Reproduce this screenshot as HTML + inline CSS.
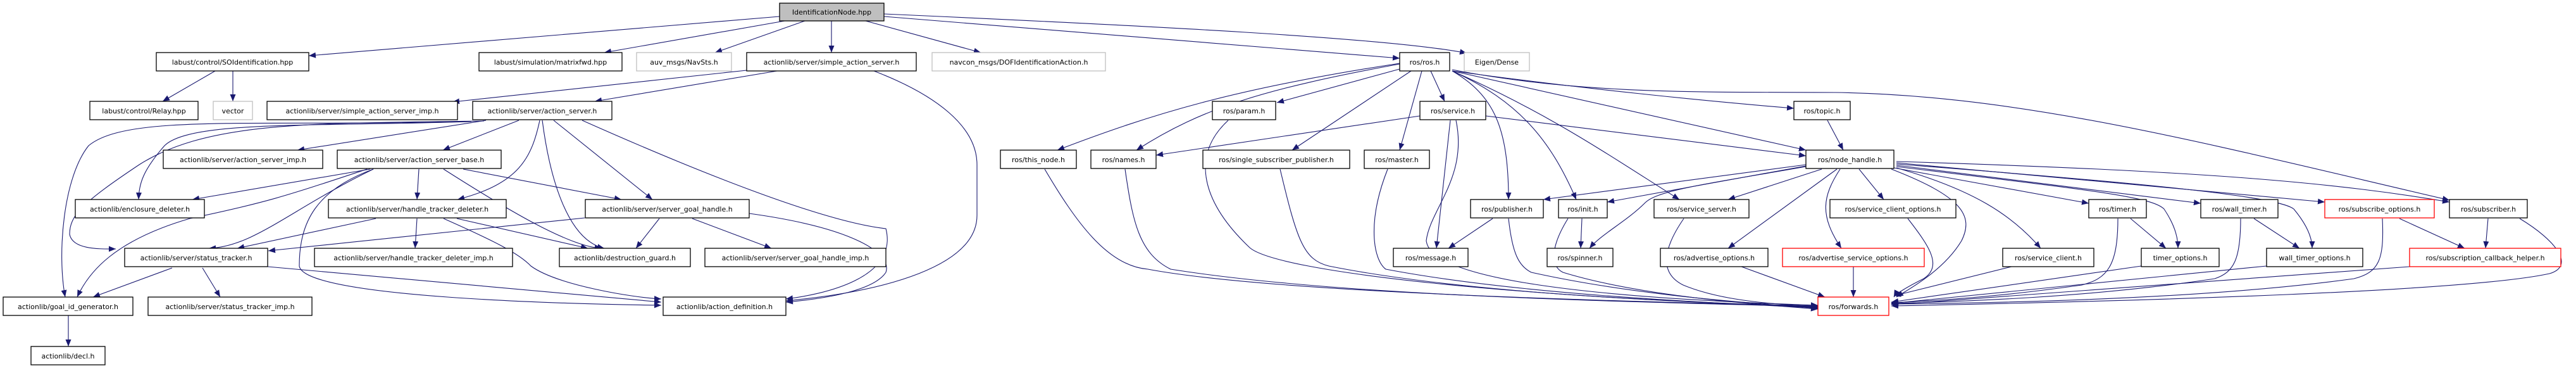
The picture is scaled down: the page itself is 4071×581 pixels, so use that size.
<!DOCTYPE html>
<html><head><meta charset="utf-8"><style>
html,body{margin:0;padding:0;background:#fff;}
svg{display:block;}
text{font-family:"DejaVu Sans","Liberation Sans",sans-serif;font-size:11px;fill:#000;text-anchor:middle;}
.n{fill:#fff;stroke:#000;stroke-width:1.3;}
.g{fill:#fff;stroke:#bfbfbf;stroke-width:1.3;}
.r{fill:#fff;stroke:#ff0000;stroke-width:1.3;}
.e{fill:none;stroke:#191970;stroke-width:1.1;}
</style></head><body>
<svg width="4071" height="581" viewBox="0 0 4071 581" xmlns="http://www.w3.org/2000/svg">
<defs><marker id="a" markerUnits="userSpaceOnUse" markerWidth="12" markerHeight="10" refX="11" refY="5" orient="auto"><path d="M0,0.5 L11,5 L0,9.5 z" fill="#191970"/></marker></defs>
<g marker-end="url(#a)">
<!-- root edges -->
<path class="e" d="M1232,26 L488,88"/>
<path class="e" d="M1240,33 L955,83"/>
<path class="e" d="M1272,33 L1130,83"/>
<path class="e" d="M1314,33 L1314,83"/>
<path class="e" d="M1368,33 L1550,83"/>
<path class="e" d="M1397,26 L2212,92"/>
<path class="e" d="M1397,22 C1800,40 2200,60 2318,84"/>
<!-- SOIdentification -->
<path class="e" d="M340,112 L257,160"/>
<path class="e" d="M368,112 L368,160"/>
<!-- simple_action_server -->
<path class="e" d="M1180,111 L715,161"/>
<path class="e" d="M1228,112 L940,160"/>
<path class="e" d="M1381,112 C1480,150 1544,200 1544,260 L1544,340 C1544,420 1400,460 1242,475"/>
<!-- action_server -->
<path class="e" d="M768,190 L470,237"/>
<path class="e" d="M820,190 L700,237"/>
<path class="e" d="M745,192 C500,200 300,190 260,230 C225,270 220,290 219,315"/>
<path class="e" d="M745,192 C400,200 200,180 140,230 C100,280 90,400 103,469"/>
<path class="e" d="M765,191 C500,195 330,190 220,260 C130,320 110,340 110,370 C115,395 160,393 183,393"/>
<path class="e" d="M853,190 C840,250 820,290 723,315"/>
<path class="e" d="M857,190 C870,290 900,380 955,392"/>
<path class="e" d="M875,190 L1031,315"/>
<path class="e" d="M920,190 C1100,270 1300,350 1400,361 C1420,440 1300,465 1242,472"/>
<!-- action_server_base -->
<path class="e" d="M585,267 L304,315"/>
<path class="e" d="M580,267 C450,310 420,320 300,345 C180,380 140,430 122,469"/>
<path class="e" d="M590,267 C460,330 400,390 330,392"/>
<path class="e" d="M662,267 L659,315"/>
<path class="e" d="M701,267 C800,330 900,390 951,392"/>
<path class="e" d="M732,267 L982,315"/>
<path class="e" d="M590,267 C500,300 473,350 473,420 C480,470 900,480 1045,482"/>
<!-- handle_tracker_deleter -->
<path class="e" d="M594,345 L375,392"/>
<path class="e" d="M659,345 L656,392"/>
<path class="e" d="M722,345 L929,392"/>
<path class="e" d="M701,345 C780,380 820,400 839,420 C880,450 1000,470 1045,472"/>
<!-- server_goal_handle -->
<path class="e" d="M924,344 L424,396"/>
<path class="e" d="M1042,345 L1005,392"/>
<path class="e" d="M1094,345 L1219,392"/>
<path class="e" d="M1184,337 C1350,360 1410,400 1400,430 C1380,460 1300,472 1242,477"/>
<!-- status_tracker -->
<path class="e" d="M272,423 L147,469"/>
<path class="e" d="M320,423 L348,469"/>
<path class="e" d="M423,421 L1045,477"/>
<path class="e" d="M108,498 L108,547"/>
<!-- ros.h -->
<path class="e" d="M2212,100 C1950,140 1820,180 1671,237"/>
<path class="e" d="M2212,101 C2000,140 1900,170 1796,237"/>
<path class="e" d="M2212,109 L2018,162"/>
<path class="e" d="M2230,112 L2042,237"/>
<path class="e" d="M2247,112 L2212,237"/>
<path class="e" d="M2261,112 L2283,160"/>
<path class="e" d="M2295,112 C2360,150 2384,200 2384,315"/>
<path class="e" d="M2295,112 C2400,160 2450,220 2491,315"/>
<path class="e" d="M2295,112 C2450,180 2550,250 2654,315"/>
<path class="e" d="M2295,112 L2854,237"/>
<path class="e" d="M2295,112 C2500,140 2700,160 2835,171"/>
<path class="e" d="M2295,110 C2500,150 2700,145 2900,146 C3200,150 3500,230 3871,316"/>
<!-- service.h -->
<path class="e" d="M2244,183 L1827,245"/>
<path class="e" d="M2292,190 L2270,392"/>
<path class="e" d="M2348,183 L2854,246"/>
<path class="e" d="M2301,190 C2320,280 2260,330 2254,380 C2260,440 2500,470 2873,482"/>
<!-- row3 ros -> forwards -->
<path class="e" d="M1941,190 C1880,246 1900,320 1975,391 C2020,430 2400,470 2873,484"/>
<path class="e" d="M1651,267 C1700,350 1750,420 1814,425 C2000,460 2500,475 2873,483"/>
<path class="e" d="M1778,267 C1790,350 1800,400 1850,425 C2100,465 2500,475 2873,484"/>
<path class="e" d="M2023,267 C2050,380 2060,410 2100,420 C2300,460 2600,475 2873,485"/>
<path class="e" d="M2193,267 C2160,350 2170,410 2190,425 C2400,465 2700,478 2873,486"/>
<!-- publisher/init/service_server -->
<path class="e" d="M2359,345 L2289,392"/>
<path class="e" d="M2384,345 C2390,400 2400,420 2420,430 C2600,470 2800,480 2873,487"/>
<path class="e" d="M2500,345 L2498,392"/>
<path class="e" d="M2478,345 C2450,390 2450,420 2470,430 C2600,470 2800,482 2873,488"/>
<path class="e" d="M2661,345 C2630,390 2620,430 2660,450 C2720,475 2800,480 2873,484"/>
<!-- row5 -> forwards -->
<path class="e" d="M2752,421 L2884,469"/>
<path class="e" d="M2929,421 L2929,469"/>
<path class="e" d="M3015,345 C3050,390 3070,420 3040,440 C3010,455 2995,465 2993,469"/>
<path class="e" d="M3179,421 L2993,467"/>
<path class="e" d="M3384,420 L2989,477"/>
<path class="e" d="M3582,420 L2989,479"/>
<path class="e" d="M3808,421 L2989,481"/>
<path class="e" d="M3982,345 C4040,380 4070,420 4029,432 C3900,460 3400,475 2989,483"/>
<!-- subscriber / subscribe_options -->
<path class="e" d="M3932,345 L3928,392"/>
<path class="e" d="M3792,345 L3895,392"/>
<path class="e" d="M3765,345 C3768,410 3760,430 3720,440 C3500,470 3200,478 2989,480"/>
<!-- timer / wall_timer -->
<path class="e" d="M3367,345 L3423,392"/>
<path class="e" d="M3347,345 C3347,420 3330,440 3290,450 C3150,470 3050,475 2989,478"/>
<path class="e" d="M3562,345 L3634,392"/>
<path class="e" d="M3541,345 C3541,410 3530,430 3500,440 C3300,470 3100,476 2989,479"/>
<!-- topic -->
<path class="e" d="M2888,190 L2913,237"/>
<!-- node_handle -->
<path class="e" d="M2854,260 L2439,315"/>
<path class="e" d="M2854,262 L2540,319"/>
<path class="e" d="M2854,263 C2700,290 2620,300 2600,320 C2570,350 2530,370 2512,392"/>
<path class="e" d="M2879,267 L2731,315"/>
<path class="e" d="M2903,267 L2731,392"/>
<path class="e" d="M2908,267 C2880,310 2875,340 2910,392"/>
<path class="e" d="M2938,267 L2977,315"/>
<path class="e" d="M2989,267 C3100,310 3120,340 3100,380 C3070,430 3010,460 2997,469"/>
<path class="e" d="M2997,265 C3120,300 3180,340 3225,392"/>
<path class="e" d="M2993,265 L3301,321"/>
<path class="e" d="M2997,263 C3300,300 3400,310 3420,330 C3440,360 3442,380 3442,392"/>
<path class="e" d="M2997,261 L3478,321"/>
<path class="e" d="M2997,259 C3400,290 3600,310 3625,330 C3650,360 3654,380 3654,392"/>
<path class="e" d="M2997,257 L3674,319"/>
<path class="e" d="M2997,255 C3500,270 3700,290 3871,319"/>
</g>
<!-- nodes -->
<rect x="1232" y="5" width="165" height="28" fill="#bfbfbf" stroke="#000" stroke-width="1.3"/><text x="1314.5" y="23">IdentificationNode.hpp</text>

<rect class="n" x="247" y="83" width="241" height="29"/><text x="367.5" y="102">labust/control/SOIdentification.hpp</text>
<rect class="n" x="757" y="83" width="226" height="29"/><text x="870" y="102">labust/simulation/matrixfwd.hpp</text>
<rect class="g" x="1006" y="83" width="150" height="29"/><text x="1081" y="102">auv_msgs/NavSts.h</text>
<rect class="n" x="1180" y="83" width="268" height="29"/><text x="1314" y="102">actionlib/server/simple_action_server.h</text>
<rect class="g" x="1473" y="83" width="274" height="29"/><text x="1610" y="102">navcon_msgs/DOFIdentificationAction.h</text>
<rect class="n" x="2212" y="83" width="79" height="29"/><text x="2251.5" y="102">ros/ros.h</text>
<rect class="g" x="2314" y="83" width="103" height="29"/><text x="2365.5" y="102">Eigen/Dense</text>

<rect class="n" x="142" y="160" width="171" height="29"/><text x="227.5" y="179">labust/control/Relay.hpp</text>
<rect class="g" x="337" y="160" width="62" height="29"/><text x="368" y="179">vector</text>
<rect class="n" x="422" y="160" width="301" height="29"/><text x="572.5" y="179">actionlib/server/simple_action_server_imp.h</text>
<rect class="n" x="747" y="160" width="220" height="29"/><text x="857" y="179">actionlib/server/action_server.h</text>
<rect class="n" x="1916" y="160" width="100" height="29"/><text x="1966" y="179">ros/param.h</text>
<rect class="n" x="2244" y="160" width="104" height="29"/><text x="2296" y="179">ros/service.h</text>
<rect class="n" x="2835" y="160" width="89" height="29"/><text x="2879.5" y="179">ros/topic.h</text>

<rect class="n" x="258" y="237" width="252" height="29"/><text x="384" y="256">actionlib/server/action_server_imp.h</text>
<rect class="n" x="533" y="237" width="259" height="29"/><text x="662.5" y="256">actionlib/server/action_server_base.h</text>
<rect class="n" x="1581" y="237" width="120" height="29"/><text x="1641" y="256">ros/this_node.h</text>
<rect class="n" x="1724" y="237" width="103" height="29"/><text x="1775.5" y="256">ros/names.h</text>
<rect class="n" x="1901" y="237" width="232" height="29"/><text x="2017" y="256">ros/single_subscriber_publisher.h</text>
<rect class="n" x="2156" y="237" width="103" height="29"/><text x="2207.5" y="256">ros/master.h</text>
<rect class="n" x="2854" y="237" width="139" height="29"/><text x="2923.5" y="256">ros/node_handle.h</text>

<rect class="n" x="119" y="315" width="204" height="29"/><text x="221" y="334">actionlib/enclosure_deleter.h</text>
<rect class="n" x="519" y="315" width="281" height="29"/><text x="659.5" y="334">actionlib/server/handle_tracker_deleter.h</text>
<rect class="n" x="925" y="315" width="259" height="29"/><text x="1054.5" y="334">actionlib/server/server_goal_handle.h</text>
<rect class="n" x="2324" y="315" width="115" height="29"/><text x="2381.5" y="334">ros/publisher.h</text>
<rect class="n" x="2463" y="315" width="77" height="29"/><text x="2501.5" y="334">ros/init.h</text>
<rect class="n" x="2614" y="315" width="150" height="29"/><text x="2689" y="334">ros/service_server.h</text>
<rect class="n" x="2892" y="315" width="199" height="29"/><text x="2991.5" y="334">ros/service_client_options.h</text>
<rect class="n" x="3301" y="315" width="91" height="29"/><text x="3346.5" y="334">ros/timer.h</text>
<rect class="n" x="3478" y="315" width="122" height="29"/><text x="3539" y="334">ros/wall_timer.h</text>
<rect class="r" x="3674" y="315" width="173" height="29"/><text x="3760.5" y="334">ros/subscribe_options.h</text>
<rect class="n" x="3871" y="315" width="123" height="29"/><text x="3932.5" y="334">ros/subscriber.h</text>

<rect class="n" x="197" y="392" width="226" height="29"/><text x="310" y="411">actionlib/server/status_tracker.h</text>
<rect class="n" x="497" y="392" width="313" height="29"/><text x="653.5" y="411">actionlib/server/handle_tracker_deleter_imp.h</text>
<rect class="n" x="884" y="392" width="207" height="29"/><text x="987.5" y="411">actionlib/destruction_guard.h</text>
<rect class="n" x="1114" y="392" width="286" height="29"/><text x="1257" y="411">actionlib/server/server_goal_handle_imp.h</text>
<rect class="n" x="2202" y="392" width="118" height="29"/><text x="2261" y="411">ros/message.h</text>
<rect class="n" x="2445" y="392" width="104" height="29"/><text x="2497" y="411">ros/spinner.h</text>
<rect class="n" x="2624" y="392" width="170" height="29"/><text x="2709" y="411">ros/advertise_options.h</text>
<rect class="r" x="2817" y="392" width="224" height="29"/><text x="2929" y="411">ros/advertise_service_options.h</text>
<rect class="n" x="3165" y="392" width="144" height="29"/><text x="3237" y="411">ros/service_client.h</text>
<rect class="n" x="3384" y="392" width="123" height="29"/><text x="3445.5" y="411">timer_options.h</text>
<rect class="n" x="3582" y="392" width="152" height="29"/><text x="3658" y="411">wall_timer_options.h</text>
<rect class="r" x="3808" y="392" width="239" height="29"/><text x="3927.5" y="411">ros/subscription_callback_helper.h</text>

<rect class="n" x="5" y="469" width="205" height="29"/><text x="107.5" y="488">actionlib/goal_id_generator.h</text>
<rect class="n" x="234" y="469" width="259" height="29"/><text x="363.5" y="488">actionlib/server/status_tracker_imp.h</text>
<rect class="n" x="1048" y="469" width="194" height="29"/><text x="1145" y="488">actionlib/action_definition.h</text>
<rect class="r" x="2873" y="469" width="112" height="29"/><text x="2929" y="488">ros/forwards.h</text>

<rect class="n" x="49" y="547" width="117" height="29"/><text x="107.5" y="566">actionlib/decl.h</text>
</svg>
</body></html>
